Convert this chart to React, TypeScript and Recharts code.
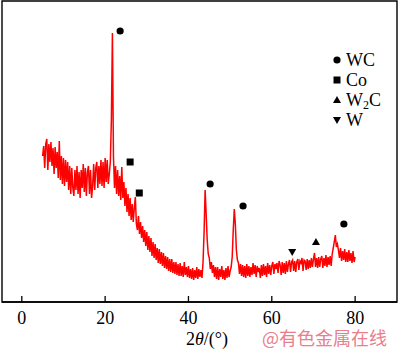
import React from 'react';
import { ComposedChart, Line, Scatter, XAxis, YAxis, Legend, ReferenceArea } from 'recharts';

const startAngle = 5;
const angleStep = 0.25;
const intensity = [
  146, 156, 134, 158, 163, 132, 158, 140, 160, 136, 154, 128, 155, 134, 150, 124,
  161, 122, 146, 118, 144, 116, 142, 120, 140, 112, 136, 108, 134, 114, 106, 132,
  112, 136, 108, 130, 104, 132, 114, 138, 110, 134, 106, 130, 136, 108, 132, 104,
  116, 138, 112, 134, 140, 114, 136, 118, 142, 116, 140, 114, 144, 120, 142, 118,
  128, 140, 182, 269, 146, 114, 136, 108, 132, 106, 126, 102, 135, 104, 120, 96,
  114, 90, 108, 86, 104, 82, 98, 80, 94, 105, 78, 72, 86, 68, 80, 64,
  76, 60, 72, 56, 70, 52, 66, 50, 64, 46, 60, 44, 58, 42, 54, 39,
  53, 38, 50, 36, 49, 34, 46, 33, 45, 31, 43, 30, 43, 29, 40, 28,
  40, 27, 38, 26, 39, 26, 36, 25, 40, 27, 35, 25, 36, 24, 33, 23,
  34, 22, 32, 24, 35, 23, 33, 25, 32, 24, 40, 70, 112, 88, 62, 48,
  44, 33, 40, 29, 37, 25, 35, 23, 35, 22, 33, 25, 36, 23, 32, 22,
  34, 24, 36, 25, 31, 35, 45, 72, 93, 78, 52, 42, 39, 28, 38, 26,
  37, 25, 36, 24, 38, 26, 36, 25, 35, 27, 39, 28, 37, 25, 36, 30,
  34, 24, 37, 26, 38, 27, 36, 25, 39, 28, 37, 27, 36, 40, 28, 38,
  33, 39, 29, 41, 37, 27, 40, 29, 39, 28, 41, 30, 38, 42, 30, 40,
  42, 31, 41, 30, 40, 43, 32, 41, 39, 44, 31, 42, 41, 32, 43, 33,
  42, 34, 44, 35, 43, 49, 35, 44, 34, 45, 35, 43, 46, 34, 44, 36,
  47, 35, 45, 37, 46, 36, 48, 54, 60, 67, 55, 58, 52, 44, 54, 41,
  51, 42, 53, 40, 50, 40, 52, 41, 49, 39, 51, 40, 45,
];

const xTicks = [0, 20, 40, 60, 80];

// phase markers placed above the peaks
const markerAngle = [23.6, 26.0, 28.2, 45.2, 53.1, 64.9, 70.6, 77.3];
const markerLevel = [271, 140, 109, 118, 96, 50, 60, 78];
const markerPhase = ['WC', 'Co', 'Co', 'WC', 'WC', 'W', 'W2C', 'WC'];

const legendPhases = ['WC', 'Co', 'W2C', 'W'];

const pattern = intensity.map((v, i) => ({ angle: startAngle + i * angleStep, value: v }));
const markers = markerAngle.map((a, i) => ({ angle: a, value: markerLevel[i], phase: markerPhase[i] }));

const serif = 'Liberation Serif, Times New Roman, serif';

function Glyph({ phase, cx, cy }: { phase: string; cx: number; cy: number }) {
  if (phase === 'WC') return <circle cx={cx} cy={cy} r={3.6} fill="#000" />;
  if (phase === 'Co') return <rect x={cx - 3.5} y={cy - 3.5} width={7} height={7} fill="#000" />;
  if (phase === 'W2C')
    return <polygon points={`${cx},${cy - 4} ${cx + 4},${cy + 3} ${cx - 4},${cy + 3}`} fill="#000" />;
  return <polygon points={`${cx - 4},${cy - 3} ${cx + 4},${cy - 3} ${cx},${cy + 4}`} fill="#000" />;
}

function AngleTick({ x, y, payload }: any) {
  return (
    <g>
      <line x1={x} x2={x} y1={y - 6} y2={y} stroke="#000" strokeWidth={1.3} />
      <text x={x} y={y + 22} textAnchor="middle" style={{ fontFamily: serif }} fontSize={18} fill="#000">
        {payload.value}
      </text>
    </g>
  );
}

function PhaseLegend() {
  return (
    <div style={{ fontFamily: serif, fontSize: 18, lineHeight: '20px', color: '#000' }}>
      {legendPhases.map((p) => (
        <div key={p} style={{ display: 'flex', alignItems: 'center', height: 20 }}>
          <svg width={15} height={20} style={{ display: 'block' }}>
            <Glyph phase={p} cx={6} cy={10} />
          </svg>
          <span>
            {p === 'W2C' ? (
              <>
                W<sub style={{ fontSize: 12, lineHeight: 0, verticalAlign: '-3px' }}>2</sub>C
              </>
            ) : (
              p
            )}
          </span>
        </div>
      ))}
    </div>
  );
}

export default function App() {
  return (
    <div style={{ position: 'absolute', left: 0, top: 0, width: 400, height: 351, background: '#fff' }}>
      <ComposedChart width={400} height={351} margin={{ top: 1, right: 3, left: 2, bottom: 0 }}>
        <XAxis
          xAxisId="a"
          type="number"
          dataKey="angle"
          domain={[-4.75, 90.05]}
          ticks={xTicks}
          allowDataOverflow
          height={49}
          tickSize={0}
          tickMargin={0}
          tickLine={false}
          tick={<AngleTick />}
          axisLine={{ stroke: '#000', strokeWidth: 1.4 }}
          label={{
            content: () => (
              <text x={186} y={345} style={{ fontFamily: serif }} fontSize={18} fill="#000">
                2<tspan fontStyle="italic">θ</tspan>/(°)
              </text>
            ),
          }}
        />
        <YAxis yAxisId="v" type="number" domain={[0, 301]} allowDataOverflow hide />
        <ReferenceArea
          xAxisId="a"
          yAxisId="v"
          x1={-4.75}
          x2={90.05}
          y1={0}
          y2={301}
          fill="none"
          stroke="#000"
          strokeWidth={1.4}
          ifOverflow="extendDomain"
        />
        <Line
          xAxisId="a"
          yAxisId="v"
          data={pattern}
          dataKey="value"
          type="linear"
          stroke="#ff0000"
          strokeWidth={1.5}
          dot={false}
          isAnimationActive={false}
        />
        <Scatter
          xAxisId="a"
          yAxisId="v"
          data={markers}
          dataKey="value"
          isAnimationActive={false}
          shape={(props: any) => <Glyph phase={props.payload.phase} cx={props.cx} cy={props.cy} />}
        />
        <Legend
          layout="vertical"
          align="center"
          verticalAlign="middle"
          content={() => <PhaseLegend />}
          wrapperStyle={{ position: 'absolute', left: 331, top: 50, width: 70 }}
        />
      </ComposedChart>
      <div
        style={{
          position: 'absolute',
          left: 262,
          top: 328,
          fontFamily: '"Noto Sans CJK SC", sans-serif',
          fontSize: 18,
          lineHeight: '18px',
          color: '#e8808c',
          whiteSpace: 'nowrap',
        }}
      >
        @有色金属在线
      </div>
    </div>
  );
}
